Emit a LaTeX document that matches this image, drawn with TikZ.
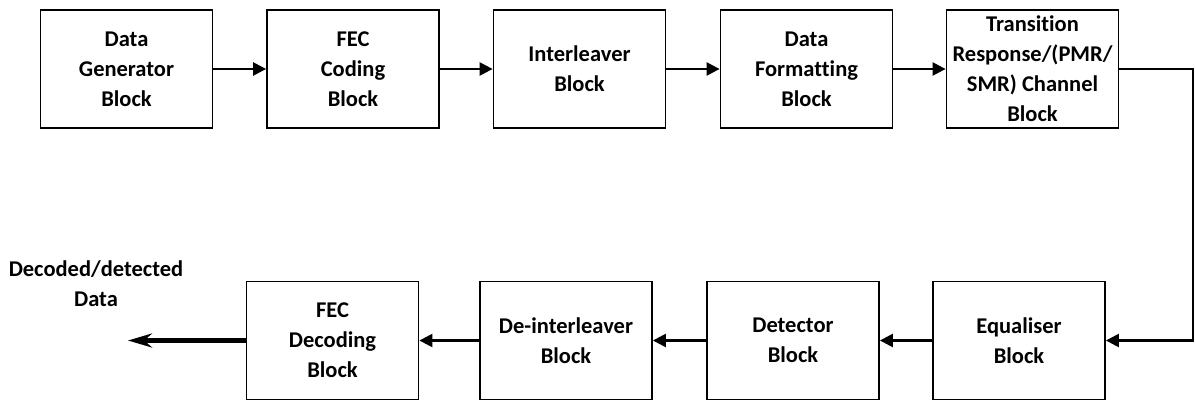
\documentclass[tikz,border=0pt]{standalone}
\usepackage{fontspec}
\setmainfont[Ligatures=NoCommon]{Carlito}
\usetikzlibrary{arrows.meta}
\tikzset{
  blk/.style={draw, line width=1.8pt, minimum width=172pt, minimum height=118pt,
    inner sep=0pt, align=center, font=\bfseries\fontsize{22.5}{30}\selectfont},
  flow/.style={line width=2.4pt, -{Triangle[length=13pt,width=13pt]}},
  outflow/.style={line width=4.5pt, -{Stealth[length=24pt,width=14pt,inset=8pt]}},
  lbl/.style={align=center, font=\bfseries\fontsize{22.5}{30}\selectfont}
}
\begin{document}
\begin{tikzpicture}[x=1pt,y=-1pt]
\useasboundingbox (0,0) rectangle (1196,401);
% transmit chain
\node[blk] (gen)  at (126.5,69)  {Data\\Generator\\Block};
\node[blk] (fec)  at (353,69)    {FEC\\Coding\\Block};
\node[blk] (intl) at (579.5,69)  {Interleaver\\Block};
\node[blk] (fmt)  at (806.5,69)  {Data\\Formatting\\Block};
\node[blk] (chan) at (1032.5,69) {Transition\\Response/(PMR/\\SMR) Channel\\Block};
% receive chain
\node[blk] (eq)   at (1019,340.5) {Equaliser\\Block};
\node[blk] (det)  at (793,340.5)  {Detector\\Block};
\node[blk] (dint) at (566,340.5)  {De-interleaver\\Block};
\node[blk] (dec)  at (332.5,340.5) {FEC\\Decoding\\Block};
\coordinate (out) at (128,340.5);
\coordinate (turn) at (1193,69);
\node[lbl] (outlbl) at (96,284) {Decoded/detected\\Data};
% connectors
\draw[flow] (gen) -- (fec);
\draw[flow] (fec) -- (intl);
\draw[flow] (intl) -- (fmt);
\draw[flow] (fmt) -- (chan);
\draw[flow] (chan.east) -- (turn) |- (eq.east);
\draw[flow] (eq) -- (det);
\draw[flow] (det) -- (dint);
\draw[flow] (dint) -- (dec);
\draw[outflow] (dec.west) -- (out);
\end{tikzpicture}
\end{document}
